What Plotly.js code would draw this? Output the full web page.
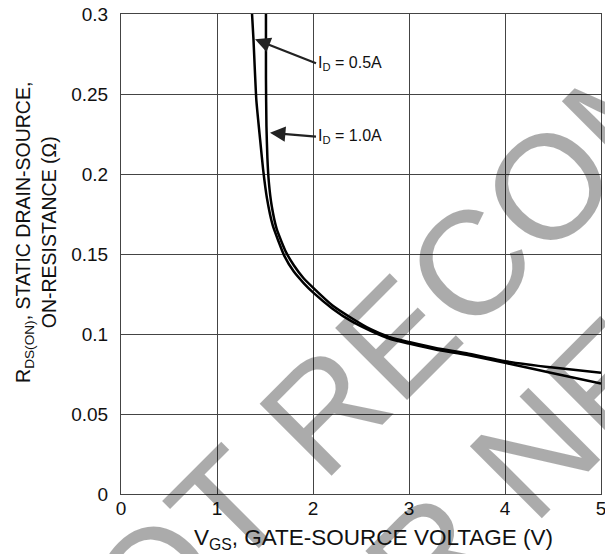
<!DOCTYPE html>
<html>
<head>
<meta charset="utf-8">
<script src="https://cdn.plot.ly/plotly-3.0.1.min.js"></script>
<style>html,body{margin:0;padding:0;background:#fff;}#chart{width:605px;height:554px;}</style>
</head>
<body>
<div id="chart"></div>
<script>
// I_D = 0.5A
const vgs05 = [1.365,1.38,1.41,1.45,1.48,1.52,1.58,1.64,1.70,1.80,1.90,2.00,2.20,2.40,2.60,2.80,3.00,3.30,3.60,4.00,4.50,5.00];
const rds05 = [0.300,0.284,0.246,0.221,0.203,0.185,0.168,0.158,0.149,0.139,0.132,0.126,0.116,0.108,0.102,0.097,0.094,0.090,0.087,0.082,0.0755,0.069];
// I_D = 1.0A
const vgs10 = [1.51,1.51,1.515,1.525,1.54,1.57,1.62,1.67,1.72,1.80,1.90,2.00,2.20,2.40,2.60,2.80,3.00,3.30,3.60,4.00,4.50,5.00];
const rds10 = [0.300,0.260,0.230,0.210,0.195,0.180,0.166,0.158,0.151,0.143,0.135,0.129,0.118,0.110,0.103,0.098,0.095,0.091,0.088,0.083,0.079,0.0758];

const xTickVals = [0,1,2,3,4,5];
const xTickText = ['0','1','2','3','4','5'];
const yTickVals = [0,0.05,0.1,0.15,0.2,0.25,0.3];
const yTickText = ['0','0.05','0.1','0.15','0.2','0.25','0.3'];

const FONT = 'Arial, "Liberation Sans", sans-serif';
const lineStyle = {color:'#000', width:2.5, shape:'spline', smoothing:0.5};

const traces = [
  {x: vgs05, y: rds05, mode:'lines', line: lineStyle, name:'I_D = 0.5A', hoverinfo:'skip'},
  {x: vgs10, y: rds10, mode:'lines', line: lineStyle, name:'I_D = 1.0A', hoverinfo:'skip'}
];

const wm = 'rgba(0,0,0,0.33)';
const layout = {
  width:605, height:554,
  margin:{l:121, r:4, t:14, b:60},
  paper_bgcolor:'#fff', plot_bgcolor:'#fff',
  showlegend:false,
  font:{family:FONT, color:'#111'},
  xaxis:{
    range:[0,5], tickvals:xTickVals, ticktext:xTickText,
    showgrid:true, gridcolor:'#444', gridwidth:1,
    showline:true, mirror:true, linecolor:'#444', linewidth:1,
    zeroline:false, ticks:'', ticklabelstandoff:-3, ticklabeloverflow:'allow',
    tickfont:{family:FONT, size:19, color:'#111'}
  },
  yaxis:{
    range:[0,0.3], tickvals:yTickVals, ticktext:yTickText,
    showgrid:true, gridcolor:'#444', gridwidth:1,
    showline:true, mirror:true, linecolor:'#444', linewidth:1,
    zeroline:false, ticks:'', ticklabelstandoff:8,
    tickfont:{family:FONT, size:19, color:'#111'}
  },
  annotations:[
    {xref:'paper', yref:'paper', x:0.9646, y:0.7146, text:'NOT RECOMMENDED', showarrow:false,
     textangle:-45, font:{family:FONT, size:148, color:wm}, xanchor:'center', yanchor:'middle'},
    {xref:'paper', yref:'paper', x:1.225, y:0.448, text:'FOR NEW DESIGN', showarrow:false,
     textangle:-45, font:{family:FONT, size:148, color:wm}, xanchor:'center', yanchor:'middle'},
    {xref:'paper', yref:'paper', x:0.527, y:-0.094, xanchor:'center', yanchor:'middle',
     text:'V<sub>GS</sub>, GATE-SOURCE VOLTAGE (V)', showarrow:false,
     font:{family:FONT, size:22.5, color:'#111'}},
    {xref:'paper', yref:'paper', x:-0.178, y:0.545, xanchor:'center', yanchor:'middle',
     text:'R<sub>DS(ON)</sub>, STATIC DRAIN-SOURCE,<br>ON-RESISTANCE (Ω)', showarrow:false, textangle:-90, align:'center',
     font:{family:FONT, size:19.5, color:'#111'}},
    {x:1.396, y:0.2842, xref:'x', yref:'y', text:'I<sub>D</sub> = 0.5A', showarrow:true,
     ax:61, ay:24, xanchor:'left', yanchor:'middle', arrowhead:2, arrowsize:1.4, arrowwidth:2.2, arrowcolor:'#222',
     standoff:0, font:{family:FONT, size:16, color:'#111'}},
    {x:1.552, y:0.2258, xref:'x', yref:'y', text:'I<sub>D</sub> = 1.0A', showarrow:true,
     ax:46, ay:4, xanchor:'left', yanchor:'middle', arrowhead:2, arrowsize:1.4, arrowwidth:2.2, arrowcolor:'#222',
     standoff:0, font:{family:FONT, size:16, color:'#111'}}
  ]
};

Plotly.newPlot('chart', traces, layout, {staticPlot:true, displayModeBar:false});
</script>
</body>
</html>
